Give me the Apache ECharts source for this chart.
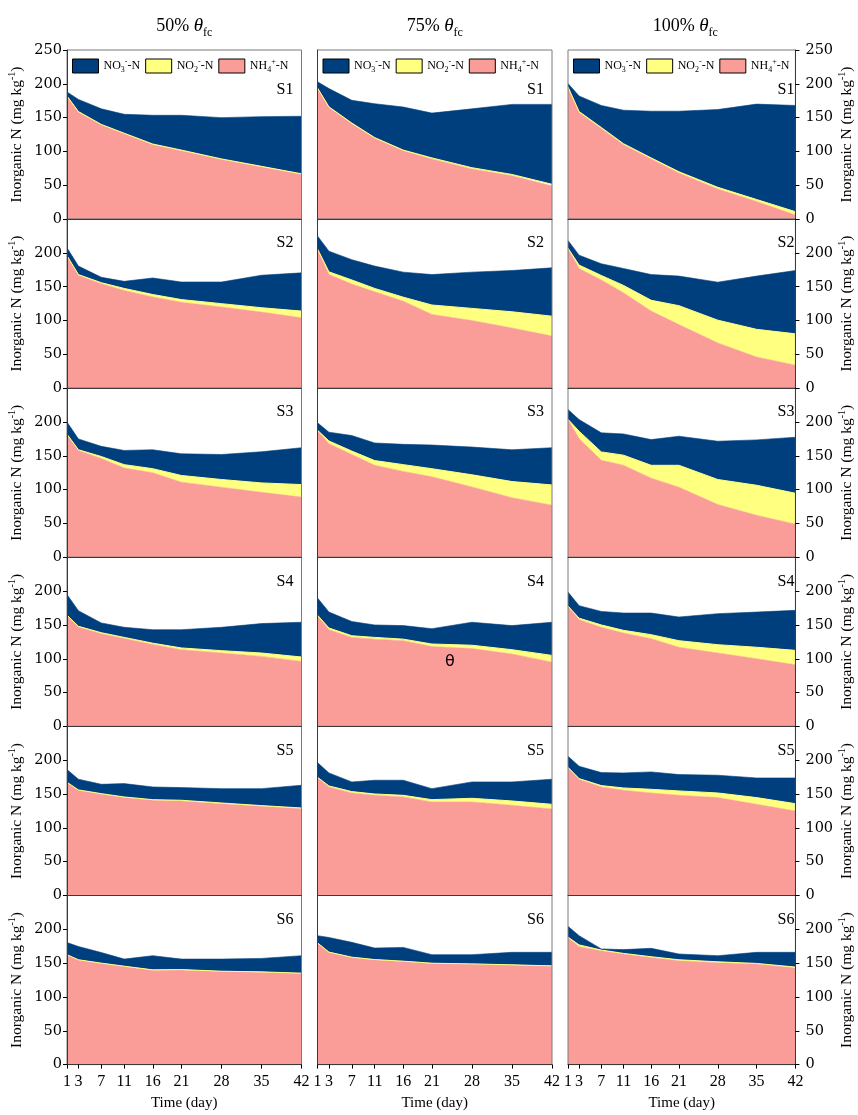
<!DOCTYPE html>
<html><head><meta charset="utf-8">
<script src="https://cdn.jsdelivr.net/npm/echarts@6/dist/echarts.min.js"></script>
<style>html,body{margin:0;padding:0;background:#fff}#c{width:858px;height:1115px}</style>
</head><body><div id="c"></div>
<script>
const days = [1,3,7,11,16,21,28,35,42];
const soils = ['S1','S2','S3','S4','S5','S6'];
const treatments = ['50%','75%','100%'];

const NH4_50 = [
 [181,158,139,126,110,101,88,77,66],
 [195,167,154.5,144.5,135,127,120,112.5,104],
 [181.5,158,146,132,125,111,103.5,96,89],
 [164,147,137,130,121,113.4,108.5,103.5,96],
 [166.9,155.6,149.6,144.7,140.7,139.8,135.8,131.9,128.4],
 [162,154.5,149.5,145,139.6,140,137.6,136.6,134.7]
];
const NO2_50 = [
 [1,1,1,1,1,1,1,1,1],
 [1,1,1.5,3,3.5,4,5,6.5,10],
 [0.5,1,3,5,6,10,11.5,14,18.5],
 [0.5,1,1.5,1.6,2,2.6,3.5,5,6.6],
 [0.5,0.5,1,1,1,1,1,1,1],
 [0.5,0.5,0.5,0.5,0.5,0.5,0.5,0.5,0.5]
];
const NO3_50 = [
 [6,18,23,28,42.5,51.5,61,73.5,85],
 [11.6,12.5,8,10.5,24.5,26,32,48,56.5],
 [18,16,15,21,28,32,37,46,54.5],
 [30.5,23,14.5,14.9,20,27,34.5,43.5,51.4],
 [18.8,15.8,13.8,19.7,18.8,18.7,21.2,25.1,33.6],
 [18,19.6,15.7,10.5,20.9,15.5,17.9,19.9,25.8]
];

const NH4_75 = [
 [193,165,141,119.5,101,89,74,64,49],
 [205,168,154,142.5,128.7,109,100,89,77],
 [187,168,152,136,127,119,104,88,77],
 [164,143,131.6,129,126.7,118,115,107,95],
 [174.3,160.5,151.6,148.1,145.7,138.3,138.3,133.3,127.9],
 [179.7,166,158.5,155,152.6,149.6,148.6,147.2,145.7]
];
const NO2_75 = [
 [1,1,1,1,1,1.5,2,2,2.5],
 [1,4,6,5,5.9,14,18,24,29.5],
 [1,4,5,7,10,12,18,24,30],
 [0.5,2.5,2.4,2.6,2.3,3.8,5,6.4,10],
 [0.5,1.5,2,2,2.4,3.4,5.4,6.5,6.9],
 [0.3,0.3,0.3,0.3,0.3,0.3,0.3,0.3,0.3]
];
const NO3_75 = [
 [9,27,33.6,50.1,63.7,66.2,87,103.6,118.1],
 [19,30.6,30,33,37,45,53.6,61,71.5],
 [11,13,23,26,30,35,41,47,55],
 [25.5,23.5,21,18.4,20,22.7,34,35.6,49],
 [21.7,19.2,14.3,20.3,22.3,16.3,24.2,28.1,37.1],
 [10.6,21.7,21.9,17,20.4,12.6,13.6,18.5,20]
];

const NH4_100 = [
 [194.5,157.5,134,110,89,68,44.5,26,6],
 [206.6,177,160,141,114,94,67,46,34],
 [203.6,175.5,143.5,136,117,103.5,78,62,49],
 [177.5,157.8,146.5,138,129.7,116.9,108.5,100,91],
 [189,171.9,160.5,155.6,151.6,148.1,144.7,134.8,124.9],
 [188,174.3,168.4,163.5,158.5,153.6,150.6,148.6,142.7]
];
const NO2_100 = [
 [1,1.5,1.5,1.5,1.5,2,2.5,3,5],
 [0.5,5,6.7,11,16,28,33.6,41,46.4],
 [0.4,10.9,12.3,15,19,32.5,37,44.5,45.7],
 [0.5,2.2,3.5,4,5.9,9.8,12.3,17,21.4],
 [0.5,0.9,2,3.4,5.4,6.5,6.9,9.9,10.9],
 [0.5,2.7,1,0.9,1,1.4,1.4,1,1.5]
];
const NO3_100 = [
 [5,23,32.5,49.5,69,89.5,115,141,157],
 [11.4,14.7,17.3,25,38,43.7,56.2,78.7,93.6],
 [14.4,17.2,28.2,31.4,38,43,56.6,67.1,82.8],
 [20.7,18.5,20,25.6,32,35,45.9,52,59.2],
 [16.4,18.3,19.2,22.2,25.7,24.2,26.2,29.1,38],
 [15.9,13.6,1.6,5.6,12.4,8.5,9,16.4,21.8]
];

const NH4 = [NH4_50, NH4_75, NH4_100];
const NO2 = [NO2_50, NO2_75, NO2_100];
const NO3 = [NO3_50, NO3_75, NO3_100];

// layout / style
const COL_LEFT = [67, 317.5, 568];
const PLOT_W = 234.5;
const TOP0 = 50;
const ROW_H = 169.1;
const C_NO3 = '#003F7E', C_NO2 = '#FFFF80', C_NH4 = '#FA9D99';
const SERIF = 'Liberation Serif';

const grids = [], xAxes = [], yAxes = [], series = [], graphics = [];
for (let r = 0; r < 6; r++) {
  for (let c = 0; c < 3; c++) {
    const idx = r * 3 + c;
    grids.push({left: COL_LEFT[c], top: TOP0 + r * ROW_H, width: PLOT_W, height: ROW_H,
      show: true, borderColor: '#7a7a7a', borderWidth: 1, backgroundColor: 'transparent', z: 6});
    xAxes.push({
      gridIndex: idx, type: 'value', min: 1, max: 42, z: 7,
      axisLine: {show: true, onZero: false, lineStyle: {color: '#3a3a3a', width: 1}},
      axisTick: {show: r === 5, customValues: days, length: 4, lineStyle: {color: '#000'}},
      axisLabel: {show: r === 5, customValues: days, margin: 9, fontFamily: SERIF, fontSize: 16, color: '#000'},
      splitLine: {show: false},
      name: r === 5 ? 'Time (day)' : '', nameLocation: 'middle', nameGap: 31,
      nameTextStyle: {fontFamily: SERIF, fontSize: 15, color: '#000'}
    });
    yAxes.push({
      gridIndex: idx, type: 'value', min: 0, max: 250, interval: 50, z: 7,
      position: c === 2 ? 'right' : 'left',
      axisLine: {show: true, lineStyle: {color: '#3a3a3a', width: 1}},
      axisTick: {show: c !== 1, length: 4, lineStyle: {color: '#000'}},
      axisLabel: {show: c !== 1, margin: c === 2 ? 10 : 5,
        formatter: v => (r > 0 && v === 250) ? '' : String(v),
        fontFamily: 'DejaVu Serif', fontSize: 14.5, color: '#000'},
      splitLine: {show: false},
      name: c !== 1 ? 'Inorganic N (mg kg{sup|-1})' : '',
      nameLocation: 'middle', nameRotate: 90, nameGap: 40,
      nameTextStyle: {fontFamily: SERIF, fontSize: 15.5, color: '#000', lineHeight: 20,
        rich: {sup: {fontFamily: SERIF, fontSize: 10, verticalAlign: 'top', lineHeight: 20}}}
    });
    // value first, day second, so the stack is applied to the value dimension
    const base = {type: 'line', xAxisIndex: idx, yAxisIndex: idx, stack: 'g' + idx,
      encode: {x: 1, y: 0}, symbol: 'none', silent: true, animation: false, z: 2};
    series.push(Object.assign({}, base, {name: 'NH4', color: C_NH4,
      data: days.map((d, i) => [NH4[c][r][i], d]),
      lineStyle: {width: 0.6, color: C_NH4}, areaStyle: {color: C_NH4, opacity: 1}}));
    series.push(Object.assign({}, base, {name: 'NO2', color: C_NO2,
      data: days.map((d, i) => [NO2[c][r][i], d]),
      lineStyle: {width: 1, color: C_NO2}, areaStyle: {color: C_NO2, opacity: 1}}));
    series.push(Object.assign({}, base, {name: 'NO3', color: C_NO3,
      data: days.map((d, i) => [NO3[c][r][i], d]),
      lineStyle: {width: 0.6, color: C_NO3}, areaStyle: {color: C_NO3, opacity: 1}}));
    graphics.push({type: 'text', z: 20,
      style: {text: soils[r], x: COL_LEFT[c] + PLOT_W - 8, y: TOP0 + r * ROW_H + (r === 0 ? 40 : 24),
        align: 'right', verticalAlign: 'middle', font: '16px "Liberation Serif"', fill: '#000'}});
  }
}
treatments.forEach((t, c) => {
  graphics.push({type: 'text', z: 20,
    style: {text: t + ' {it|θ}{sub|fc}', x: COL_LEFT[c] + PLOT_W / 2, y: 26,
      align: 'center', verticalAlign: 'middle', font: '18px "Liberation Serif"', fill: '#000',
      lineHeight: 26,
      rich: {it: {fontFamily: SERIF, fontSize: 19, fontStyle: 'italic', lineHeight: 26},
             sub: {fontFamily: SERIF, fontSize: 12, verticalAlign: 'bottom', lineHeight: 26}}}});
});
graphics.push({type: 'text', z: 20,
  style: {text: 'θ', x: 450, y: 662, align: 'center', verticalAlign: 'middle',
    font: '16px "DejaVu Sans"', fill: '#000'}});

const legendLabels = {NO3: 'NO{sub|3}{sup|-}-N', NO2: 'NO{sub|2}{sup|-}-N', NH4: 'NH{sub|4}{sup|+}-N'};
const legends = treatments.map((t, c) => ({
  left: COL_LEFT[c] + 5, top: 58, padding: 0, orient: 'horizontal', itemWidth: 26, itemHeight: 14, itemGap: 5,
  icon: 'rect', selectedMode: false, data: ['NO3', 'NO2', 'NH4'],
  formatter: n => legendLabels[n],
  itemStyle: {borderColor: '#000', borderWidth: 1},
  textStyle: {fontFamily: SERIF, fontSize: 12, color: '#000', lineHeight: 16,
    rich: {sub: {fontFamily: SERIF, fontSize: 8, verticalAlign: 'bottom', lineHeight: 16},
           sup: {fontFamily: SERIF, fontSize: 8, verticalAlign: 'top', lineHeight: 16}}}
}));

const chart = echarts.init(document.getElementById('c'), null, {renderer: 'canvas'});
chart.setOption({
  animation: false,
  backgroundColor: '#fff',
  grid: grids, xAxis: xAxes, yAxis: yAxes, series: series,
  legend: legends, graphic: graphics
});
</script></body></html>
